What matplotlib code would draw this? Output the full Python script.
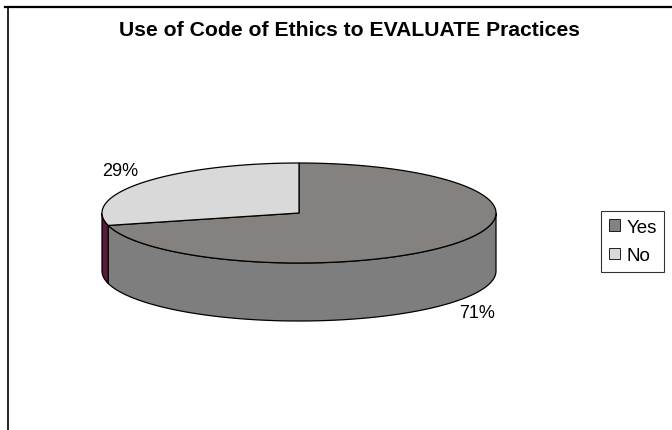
import numpy as np
import matplotlib
matplotlib.use("Agg")
import matplotlib.pyplot as plt
from matplotlib.patches import Polygon, Patch
from matplotlib.lines import Line2D

title = "Use of Code of Ethics to EVALUATE Practices"
labels = ["Yes", "No"]
values = [71, 29]
top_colors = ["#84817f", "#d9d9d9"]
side_colors = ["#7e7e7e", "#5a1a3c"]

plt.rcParams["font.family"] = ["Liberation Sans", "DejaVu Sans"]

W, H = 672, 431
fig = plt.figure(figsize=(W / 100, H / 100), dpi=100)
ax = fig.add_axes([0, 0, 1, 1])
ax.set_xlim(0, W)
ax.set_ylim(H, 0)
ax.axis("off")

# pie geometry in pixels
cx, cy, a, b, depth = 299, 214, 197, 50, 58


def arc(t1, t2, dy=0, n=200):
    t = np.radians(np.linspace(t1, t2, n))
    return np.column_stack([cx + a * np.cos(t), cy + dy - b * np.sin(t)])


# wedge angles: "No" starts at 12 o'clock going counter-clockwise
total = sum(values)
no_span = 360 * values[1] / total
angles = {"No": (90, 90 + no_span), "Yes": (90 + no_span, 450)}

# side faces (front half only, 180..360)
for name, col in zip(labels, side_colors):
    t1, t2 = angles[name]
    s1, s2 = max(t1, 180), min(t2, 360)
    if s2 > s1:
        pts = np.vstack([arc(s1, s2), arc(s2, s1, depth)])
        ax.add_patch(Polygon(pts, closed=True, facecolor=col, edgecolor="black", lw=0.9, zorder=2))

# top faces
for name, col in zip(labels, top_colors):
    t1, t2 = angles[name]
    pts = np.vstack([[cx, cy], arc(t1, t2)])
    ax.add_patch(Polygon(pts, closed=True, facecolor=col, edgecolor="black", lw=0.9, zorder=3))

# percentage labels
ax.text(120, 172, f"{values[1]}%", fontsize=13, ha="center", va="center", zorder=4)
ax.text(477, 314, f"{values[0]}%", fontsize=13, ha="center", va="center", zorder=4)

ax.text(349, 31, title, fontsize=15.2, fontweight="bold", ha="center", va="center")

# frame lines
ax.add_line(Line2D([5, W], [7.5, 7.5], color="black", lw=1.6))
ax.add_line(Line2D([8, 8], [7.5, H], color="black", lw=1.2))

handles = [Patch(facecolor=c, edgecolor="black", lw=0.6) for c in top_colors]
leg = ax.legend(handles, labels, loc="center left", bbox_to_anchor=(601 / W, 1 - 242.5 / H),
                bbox_transform=fig.transFigure, frameon=True, fancybox=False,
                edgecolor="black", fontsize=13.5, handlelength=0.6, handleheight=0.6,
                handletextpad=0.35, labelspacing=0.6, borderpad=0.4, borderaxespad=0)
leg.get_frame().set_linewidth(0.8)

fig.savefig("out.png", dpi=100, facecolor="white")
